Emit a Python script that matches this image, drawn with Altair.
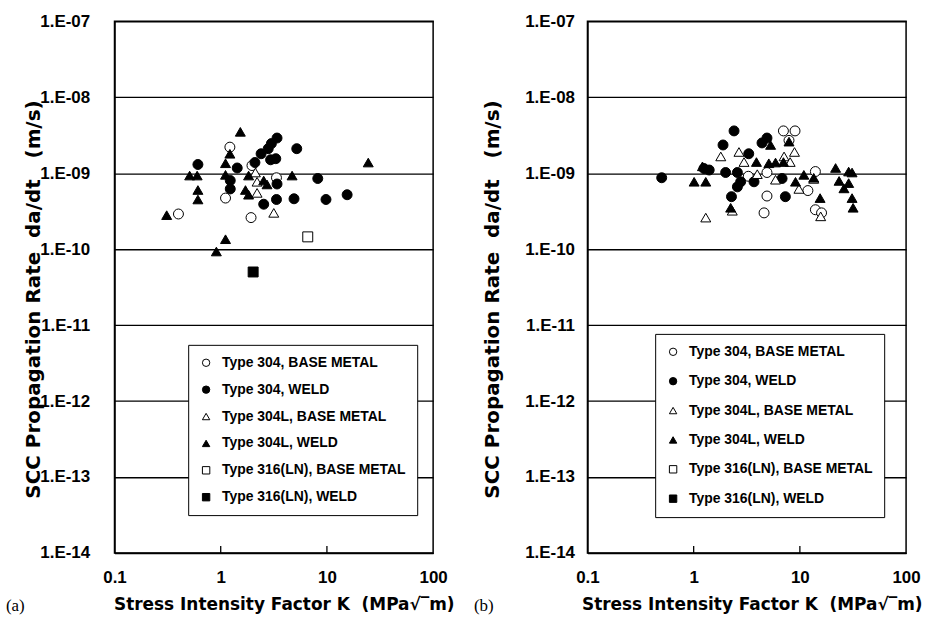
import altair as alt
import pandas as pd

SERIES = ["Type 304, BASE METAL", "Type 304, WELD", "Type 304L, BASE METAL",
          "Type 304L, WELD", "Type 316(LN), BASE METAL", "Type 316(LN), WELD"]
SHAPES = ["circle", "circle", "triangle-up", "triangle-up", "square", "square"]
FILLS = ["white", "black", "white", "black", "white", "black"]
STROKES = ["black"] * 6

# ---------------- panel (a) ----------------
a_304_base_k = [1.22, 1.97, 3.35, 1.11, 0.40, 1.93]
a_304_base_r = [2.2e-9, 1.26e-9, 8.7e-10, 4.7e-10, 2.9e-10, 2.6e-10]
a_304_weld_k = [3.39, 3.0, 2.8, 5.2, 2.4, 3.3, 2.95, 2.1, 0.61, 1.43, 1.23, 1.23,
                3.39, 8.2, 15.5, 9.8, 4.9, 3.35, 2.54]
a_304_weld_r = [2.9e-9, 2.45e-9, 2.1e-9, 2.1e-9, 1.8e-9, 1.55e-9, 1.5e-9, 1.38e-9,
                1.3e-9, 1.17e-9, 8.0e-10, 6.2e-10, 7.2e-10, 8.5e-10, 5.2e-10,
                4.5e-10, 4.6e-10, 4.5e-10, 3.9e-10]
a_304l_base_k = [2.12, 2.2, 2.2, 3.16]
a_304l_base_r = [1.02e-9, 7.7e-10, 5.5e-10, 3.0e-10]
a_304l_weld_k = [1.53, 1.22, 1.11, 0.51, 0.60, 0.61, 0.61, 0.31, 1.11, 1.83, 1.71,
                 1.83, 2.54, 2.73, 4.7, 24.5, 1.11, 0.91]
a_304l_weld_r = [3.5e-9, 1.8e-9, 1.35e-9, 9.3e-10, 9.3e-10, 6.0e-10, 4.5e-10, 2.8e-10,
                 9.5e-10, 9.3e-10, 6.0e-10, 5.2e-10, 8.0e-10, 7.1e-10, 9.3e-10,
                 1.38e-9, 1.35e-10, 9.3e-11]
a_316_base_k = [6.6]
a_316_base_r = [1.45e-10]
a_316_weld_k = [2.02]
a_316_weld_r = [5.0e-11]

# ---------------- panel (b) ----------------
b_304_base_k = [7.0, 9.0, 7.9, 4.9, 3.27, 14.0, 11.9, 4.9, 4.6, 14.0, 16.0]
b_304_base_r = [3.6e-9, 3.6e-9, 2.7e-9, 1.02e-9, 9.1e-10, 1.05e-9, 5.9e-10, 5.0e-10,
                3.0e-10, 3.3e-10, 3.0e-10]
b_304_weld_k = [0.50, 2.4, 1.89, 3.3, 4.9, 4.4, 1.40, 2.0, 2.58, 2.77, 2.58, 3.7,
                2.27, 7.3, 6.8, 1.25]
b_304_weld_r = [8.7e-10, 3.6e-9, 2.35e-9, 1.8e-9, 2.9e-9, 2.5e-9, 1.1e-9, 1.02e-9,
                1.02e-9, 7.7e-10, 6.6e-10, 7.7e-10, 4.9e-10, 4.9e-10, 8.5e-10, 1.15e-9]
b_304l_base_k = [1.8, 2.67, 2.98, 3.97, 5.9, 7.1, 8.9, 8.1, 9.8, 1.30, 2.31, 13.5, 15.7]
b_304l_base_r = [1.66e-9, 1.9e-9, 1.4e-9, 9.7e-10, 8.2e-10, 1.66e-9, 1.9e-9, 1.4e-9,
                 6.2e-10, 2.6e-10, 3.2e-10, 8.4e-10, 2.7e-10]
b_304l_weld_k = [1.01, 1.21, 1.30, 3.9, 5.1, 5.9, 5.3, 7.9, 7.0, 9.1, 10.9, 13.5,
                 21.7, 28.8, 31.0, 23.4, 26.0, 28.8, 31.0, 31.7, 15.5, 2.23]
b_304l_weld_r = [7.7e-10, 1.23e-9, 7.7e-10, 1.4e-9, 1.35e-9, 1.38e-9, 2.35e-9, 2.6e-9,
                 1.4e-9, 7.7e-10, 9.5e-10, 8.7e-10, 1.17e-9, 1.05e-9, 1.02e-9,
                 7.9e-10, 6.3e-10, 7.4e-10, 4.7e-10, 3.5e-10, 4.7e-10, 3.5e-10]

TICK_K = [1, 10]

def frame(groups):
    rows = []
    for name, ks, rs in groups:
        for k, r in zip(ks, rs):
            rows.append({"K": k, "R": r, "series": name})
    return pd.DataFrame(rows)

df_a = frame([(SERIES[0], a_304_base_k, a_304_base_r), (SERIES[1], a_304_weld_k, a_304_weld_r),
              (SERIES[2], a_304l_base_k, a_304l_base_r), (SERIES[3], a_304l_weld_k, a_304l_weld_r),
              (SERIES[4], a_316_base_k, a_316_base_r), (SERIES[5], a_316_weld_k, a_316_weld_r)])
df_b = frame([(SERIES[0], b_304_base_k, b_304_base_r), (SERIES[1], b_304_weld_k, b_304_weld_r),
              (SERIES[2], b_304l_base_k, b_304l_base_r), (SERIES[3], b_304l_weld_k, b_304l_weld_r)])

W, H = 320, 534
FONT = "Liberation Sans"
TFONT = "DejaVu Sans"
NB = "\u00a0"
Y_TITLE = f"SCC Propagation Rate{NB}{NB}da/dt{NB}{NB}{NB}(m/s)"
X_TITLE = f"Stress Intensity Factor{NB}K{NB}{NB}(MPa\u221a\u203em)"
Y_VALUES = [1e-14, 1e-13, 1e-12, 1e-11, 1e-10, 1e-9, 1e-8, 1e-7]
Y_EXPR = ("'1.E-' + (round(-log(datum.value)/LN10) < 10 ? '0' : '') + "
          "round(-log(datum.value)/LN10)")

xscale = alt.Scale(type="log", domain=[0.1, 100], nice=False)
yscale = alt.Scale(type="log", domain=[1e-14, 1e-7], nice=False)


def make_legend(lx, ly, rowpad):
    return alt.Legend(
        orient="none", legendX=lx, legendY=ly, title=None,
        strokeColor="black", fillColor="white", padding=11,
        rowPadding=rowpad, labelFont=FONT, labelFontSize=14, labelLimit=400,
        labelFontWeight="bold", labelColor="black", symbolSize=55,
        symbolStrokeColor="black", symbolStrokeWidth=1,
        labelOffset=9, symbolOpacity=1)


def x_axis(xtitlex):
    return alt.Axis(
        values=[0.1, 1, 10, 100], format="~g", grid=False, ticks=False, tickSize=0,
        labelPadding=17, labelFlush=False, title=X_TITLE, titleX=xtitlex, titleY=52,
        titleBaseline="middle", titleAlign="center", titleFont=TFONT, titleFontSize=17)


def panel(df, tag, lx, ly, rowpad, ylabpad, ytitlex, xtitlex, tagx):
    lg = make_legend(lx, ly, rowpad)
    pts = alt.Chart(df).mark_point(
        filled=True, strokeWidth=1, opacity=1, size=100
    ).encode(
        x=alt.X("K:Q", scale=xscale, axis=x_axis(xtitlex)),
        y=alt.Y("R:Q", scale=yscale, axis=alt.Axis(
            values=Y_VALUES, labelExpr=Y_EXPR, grid=True, ticks=False, tickSize=0,
            labelPadding=ylabpad, labelFlush=False, title=Y_TITLE, titleX=ytitlex,
            titleY=H / 2 + 12, titleBaseline="middle", titleAlign="center", titleAngle=270,
            titleFont=TFONT, titleFontSize=20)),
        shape=alt.Shape("series:N", scale=alt.Scale(domain=SERIES, range=SHAPES), legend=lg),
        fill=alt.Fill("series:N", scale=alt.Scale(domain=SERIES, range=FILLS), legend=lg),
        stroke=alt.Stroke("series:N", scale=alt.Scale(domain=SERIES, range=STROKES), legend=lg),
    )
    ticks = alt.Chart(pd.DataFrame({"K": TICK_K})).mark_rule(
        color="black", strokeWidth=1.3
    ).encode(
        x=alt.X("K:Q", scale=xscale, axis=x_axis(xtitlex)),
        y=alt.value(H),
        y2=alt.value(H - 7),
    )
    lab = alt.Chart(pd.DataFrame({"t": [tag]})).mark_text(
        font="Liberation Serif", fontSize=17, align="left", baseline="middle", color="black"
    ).encode(text="t:N", x=alt.value(tagx), y=alt.value(587))
    return alt.layer(pts, ticks, lab).properties(width=W, height=H)


pa = panel(df_a, "(a)", 74, 325, 13, 25, -81, 170, -109)
pb = panel(df_b, "(b)", 68, 314, 15.5, 13, -95, 165, -114)

chart = alt.hconcat(pa, pb, spacing=155, bounds="flush").resolve_scale(
    shape="independent", fill="independent", stroke="independent"
).resolve_legend(shape="independent", fill="independent", stroke="independent").properties(
    padding={"left": 5, "top": 10, "right": 2, "bottom": 2},
    background="white",
).configure_view(stroke="black", strokeWidth=1.5).configure_axis(
    labelFont=FONT, labelFontSize=17, labelFontWeight="bold", labelColor="black",
    titleFont=TFONT, titleFontSize=18, titleFontWeight="bold", titleColor="black",
    domainColor="black", domainWidth=1.5, gridColor="black", gridWidth=1.3,
)

chart.save("out.html", embed_options={"renderer": "svg", "actions": False})
